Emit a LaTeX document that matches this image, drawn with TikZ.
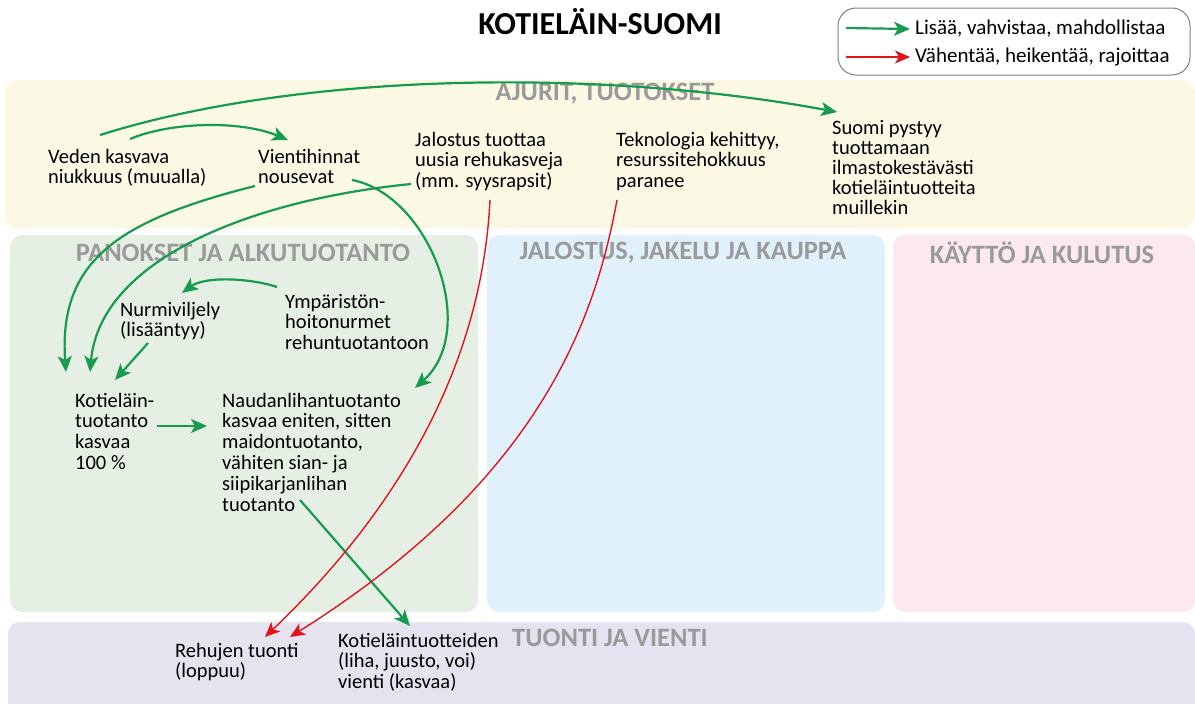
\documentclass[tikz,border=0pt]{standalone}
\usepackage{fontspec}
\setmainfont{Carlito}
\usetikzlibrary{arrows.meta}
\usetikzlibrary{positioning}

\definecolor{plusgreen}{HTML}{169B4F}
\definecolor{minusred}{HTML}{E3141E}
\definecolor{ajuri}{HTML}{FBF8E4}
\definecolor{panos}{HTML}{E5EFE4}
\definecolor{jalo}{HTML}{E0F1FB}
\definecolor{kaytto}{HTML}{FCE8F0}
\definecolor{tuonti}{HTML}{E5E3EF}
\definecolor{otsikko}{HTML}{9A9A9A}

\begin{document}
\begin{tikzpicture}[
  x=1pt, y=-1pt,
  > = {Stealth[length=16pt,width=14pt,inset=4pt]},
  txt/.style = {anchor=base west, align=left, inner sep=0pt, font=\fontsize{20.5}{20.8}\selectfont},
  head/.style = {text=otsikko, font=\fontsize{26.5}{26.5}\selectfont\bfseries},
  band/.style = {rounded corners=12pt},
  plusarrow/.style = {draw=plusgreen, line width=2.2pt, ->},
  minusarrow/.style = {draw=minusred, line width=1.4pt, -{Stealth[length=15pt,width=13pt,inset=4pt]}},
  ]
  \useasboundingbox (0,0) rectangle (1195,704);

  % taustat
  \fill[ajuri, band] (5,80) rectangle (1195,228);
  \fill[panos, band] (10,235) rectangle (478,612);
  \fill[jalo, band] (487,235) rectangle (885,612);
  \fill[kaytto, band] (893,235) rectangle (1195,612);
  \fill[tuonti, band] (8,622) rectangle (1195,716);

  \node[head] (h-ajurit) at (605,94) {AJURIT, TUOTOKSET};
  \node[head] (h-panos) at (243,253) {PANOKSET JA ALKUTUOTANTO};
  \node[head] (h-jalo) at (683,253) {JALOSTUS, JAKELU JA KAUPPA};
  \node[head] (h-kaytto) at (1042,253) {KÄYTTÖ JA KULUTUS};
  \node[head] (h-tuonti) at (610,638) {TUONTI JA VIENTI};

  \node[font=\fontsize{32}{32}\selectfont\bfseries] (otsikko) at (600,22) {KOTIELÄIN-SUOMI};

  % selite
  \node[draw=gray, line width=1pt, rounded corners=18pt, minimum width=352pt, minimum height=67pt] (selite) at (1014,41.5) {};
  \node[anchor=west, inner sep=0pt, font=\fontsize{21}{21}\selectfont] (lisaa) at (915,29) {Lisää, vahvistaa, mahdollistaa};
  \node[anchor=west, inner sep=0pt, font=\fontsize{21}{21}\selectfont] (vahentaa) at (915,57) {Vähentää, heikentää, rajoittaa};
  \coordinate (g0) at (846,28);
  \coordinate (r0) at (846,57);
  \draw[plusarrow] (g0) -- ([xshift=-5pt]lisaa.west);
  \draw[minusarrow] (r0) -- ([xshift=-5pt]vahentaa.west);

  % tekstit (ankkuri alimman rivin perusviivalla)
  \node[txt] (veden) at (48,183.8) {Veden kasvava\\niukkuus (muualla)};
  \node[txt] (vienti) at (258,183.8) {Vientihinnat\\nousevat};
  \node[txt] (jalostus) at (415,187.6) {Jalostus tuottaa\\uusia rehukasveja\\(mm. syysrapsit)};
  \node[txt] (tekno) at (616,187.6) {Teknologia kehittyy,\\resurssitehokkuus\\paranee};
  \node[txt, font=\fontsize{20.5}{20}\selectfont] (suomi) at (832,214) {Suomi pystyy\\tuottamaan\\ilmastokestävästi\\kotieläintuotteita\\muillekin};
  \node[txt] (nurmi) at (120,336.8) {Nurmiviljely\\(lisääntyy)};
  \node[txt] (ymparisto) at (285,349.6) {Ympäristön-\\hoitonurmet\\rehuntuotantoon};
  \node[txt] (kotielain) at (75,469.4) {Kotieläin-\\tuotanto\\kasvaa\\100 \%};
  \node[txt] (nauta) at (222,511) {Naudanlihantuotanto\\kasvaa eniten, sitten\\maidontuotanto,\\vähiten sian- ja\\siipikarjanlihan\\tuotanto};
  \node[txt] (rehu) at (175,677.8) {Rehujen tuonti\\(loppuu)};
  \node[txt] (vientikasvu) at (338,688.6) {Kotieläintuotteiden\\(liha, juusto, voi)\\vienti (kasvaa)};

  % vihreät nuolet
  \draw[plusarrow] ([shift={(52,-48.8)}]veden.base west) .. controls (300,72) and (600,68) .. ([shift={(5,-102)}]suomi.base west);
  \draw[plusarrow] ([shift={(82,-44.8)}]veden.base west) .. controls (170,122) and (240,120) .. ([shift={(30,-43.8)}]vienti.base west);
  \draw[plusarrow] ([shift={(-3,2.2)}]vienti.base west) .. controls (120,220) and (58,260) .. ([shift={(-9,-97.4)}]kotielain.base west);
  \draw[plusarrow] ([shift={(-4,-3.6)}]jalostus.base west) .. controls (250,200) and (100,260) .. ([shift={(15,-97.4)}]kotielain.base west);
  \draw[plusarrow] ([shift={(94,-3.8)}]vienti.base west) .. controls (430,195) and (480,330) .. ([shift={(193,-123)}]nauta.base west);
  \draw[plusarrow] ([shift={(-8,-62.6)}]ymparisto.base west) .. controls (250,278) and (205,276) .. ([shift={(62,-43.8)}]nurmi.base west);
  \draw[plusarrow] ([shift={(28,6.2)}]nurmi.base west) -- ([shift={(40,-89.4)}]kotielain.base west);
  \draw[plusarrow] ([shift={(82,-43.4)}]kotielain.base west) -- ([shift={(-15,-85)}]nauta.base west);
  \draw[plusarrow] ([shift={(78,-11)}]nauta.base west) -- ([shift={(72,-62.6)}]vientikasvu.base west);

  % punaiset nuolet
  \draw[minusarrow] ([shift={(75,12.4)}]jalostus.base west) .. controls (485,300) and (450,460) .. ([shift={(90,-40.8)}]rehu.base west);
  \draw[minusarrow] ([shift={(1,12.4)}]tekno.base west) .. controls (595,320) and (540,480) .. ([shift={(115,-40.8)}]rehu.base west);
\end{tikzpicture}
\end{document}
